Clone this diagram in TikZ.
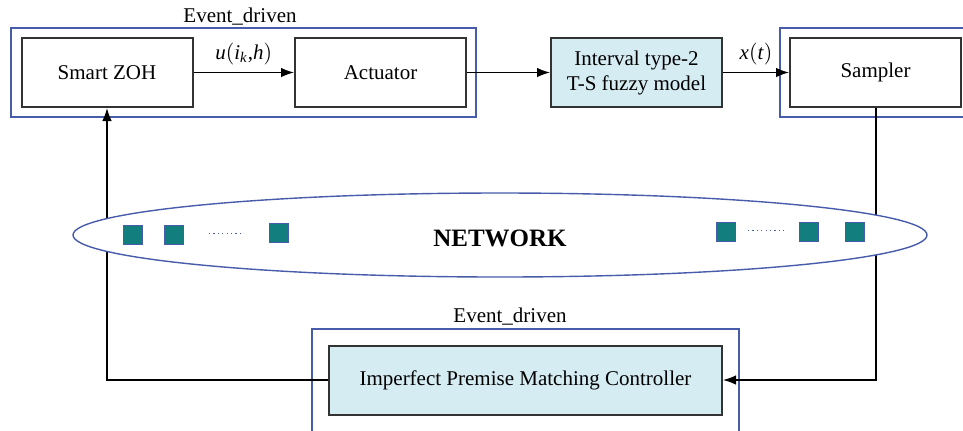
\documentclass[tikz,border=0pt]{standalone}
\usepackage{fontspec}
\setmainfont{Liberation Serif}
\usetikzlibrary{arrows.meta,shapes.geometric}
\definecolor{frameblue}{RGB}{72,92,172}
\definecolor{boxfill}{RGB}{213,236,243}
\definecolor{teal2}{RGB}{18,126,126}
\tikzset{
  x=0.5pt,y=-0.5pt,
  blk/.style={draw=black!80,line width=1pt,minimum width=85.5pt,minimum height=34.5pt,inner sep=0pt,align=center,font=\fontsize{10.5}{12.5}\selectfont},
  blkfill/.style={blk,fill=boxfill},
  frame/.style={draw=frameblue,line width=0.8pt},
  conn/.style={draw=black,line width=0.7pt},
  arr/.style={conn,-{Latex[length=6.5pt,width=4.8pt]}},
  lbl/.style={font=\fontsize{10.5}{12.5}\selectfont,inner sep=0pt},
  sq/.style={draw=frameblue,fill=teal2,line width=0.5pt,minimum size=9.5pt,inner sep=0pt},
}
\begin{document}
\begin{tikzpicture}
\useasboundingbox (0,0) rectangle (963,430);
% frames
\draw[frame] (11,28) rectangle (476,117);
\draw[frame] (963,28) -- (780,28) -- (780,117) -- (963,117);
\draw[frame] (312,440) -- (312,329) -- (739,329) -- (739,440);
\node[lbl] (ev1) at (240,17) {Event\_driven};
\node[lbl] (ev2) at (510,317) {Event\_driven};
% blocks
\node[blk] (zoh) at (107,72.5) {Smart ZOH};
\node[blk] (act) at (380.5,72.5) {Actuator};
\node[blkfill] (ts) at (636.5,72.5) {Interval type-2\\T-S fuzzy model};
\node[blk] (smp) at (875.5,72.5) {Sampler};
\node[blkfill,minimum width=196.5pt] (ctl) at (525.5,380) {Imperfect Premise Matching Controller};
% connectors
\draw[arr] (zoh) -- node[lbl,above=3.5pt] {\textit{u}\big(\textit{i}\textsubscript{\textit{k}},\textit{h}\big)} (act);
\draw[arr] (act) -- (ts);
\draw[arr] (ts) -- node[lbl,above=3.5pt] {\textit{x}\big(\textit{t}\big)} (smp);
\coordinate (c1) at (876,380);
\coordinate (c2) at (107,380);
\draw[arr] (smp.south-|c1) -- (c1) -- (ctl.east);
\draw[arr] (ctl.west) -- (c2) -- (zoh.south);
% network
\node[draw=frameblue,fill=white,line width=0.7pt,ellipse,minimum width=427pt,minimum height=42pt,inner sep=0pt] (net) at (500,235) {};
\node[font=\fontsize{12.5}{15}\selectfont\bfseries,inner sep=0pt] (nettxt) at (500,238) {NETWORK};
\node[sq] (s1) at (132.5,235) {};
\node[sq] (s2) at (173.5,235) {};
\node[sq] (s3) at (279,233) {};
\node[sq] (s4) at (725.5,232) {};
\node[sq] (s5) at (809,232) {};
\node[sq] (s6) at (855,232) {};
\draw[frameblue,line width=0.5pt,dash pattern=on 0.6pt off 1.6pt] (209,233) -- (244,233);
\draw[frameblue,line width=0.5pt,dash pattern=on 0.6pt off 1.6pt] (748,230) -- (784,230);
\end{tikzpicture}
\end{document}
